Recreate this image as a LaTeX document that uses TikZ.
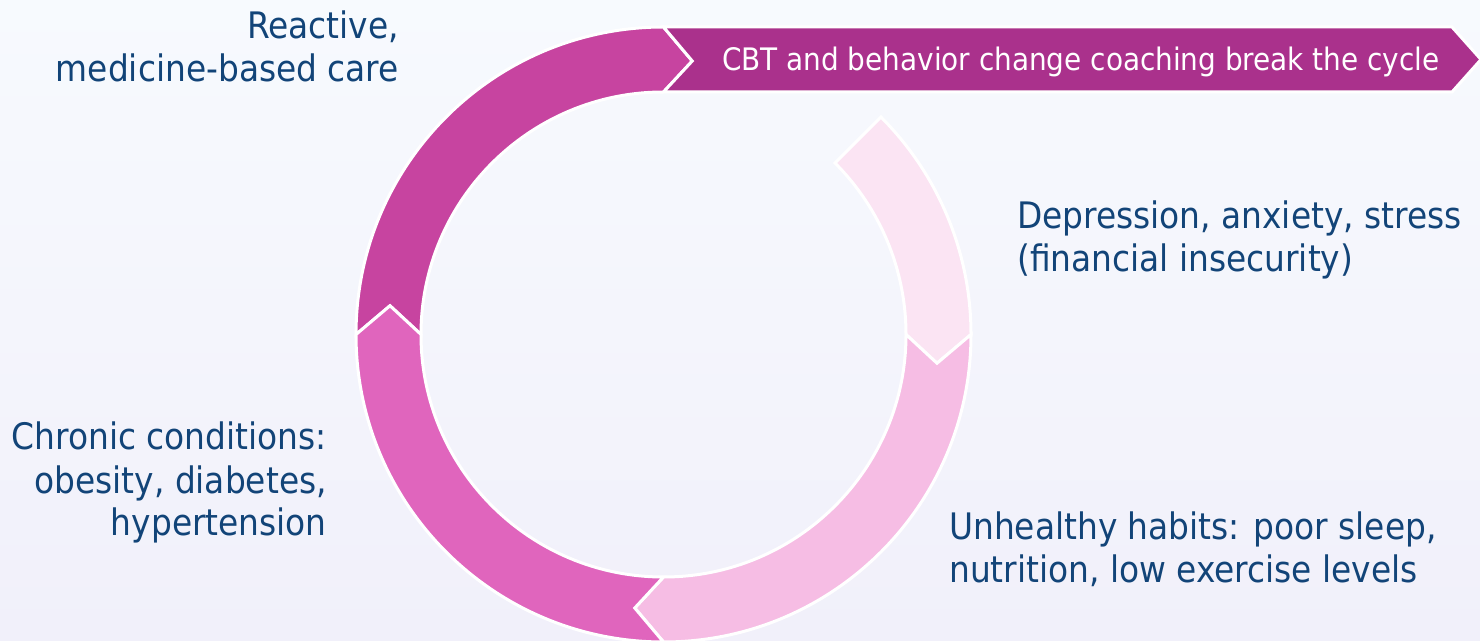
\documentclass[tikz,border=0pt]{standalone}
\usepackage{fontspec}
\setmainfont{DejaVu Sans Condensed}

\definecolor{bgtop}{RGB}{247,250,254}
\definecolor{bgbot}{RGB}{241,240,250}
\definecolor{txtblue}{RGB}{18,68,120}
\definecolor{barmag}{RGB}{170,49,140}
\definecolor{darkmag}{RGB}{199,68,160}
\definecolor{midpink}{RGB}{224,101,189}
\definecolor{pink}{RGB}{246,189,228}
\definecolor{lightpink}{RGB}{251,228,243}

\tikzset{
  seg/.style={fill=#1, draw=white, line width=3pt, line join=miter},
  lbl/.style={text=txtblue, inner sep=0pt, font=\fontsize{36.5}{43}\selectfont},
}

% ring piece from angle #1 to #2 (clockwise), notch at start, tip at end
\newcommand{\ringseg}[3]{%
  \draw[seg=#3] (#1:307.5pt) arc[start angle=#1, end angle=#2, radius=307.5pt]
    -- ({#2-6}:275pt) -- (#2:242.5pt)
    arc[start angle=#2, end angle=#1, radius=242.5pt]
    -- ({#1-6}:275pt) -- cycle;
}

\begin{document}
\begin{tikzpicture}[x=1pt,y=1pt]

% background
\useasboundingbox (0,0) rectangle (1480,640);
\shade[top color=bgtop, bottom color=bgbot] (0,0) rectangle (1480,640);

% draw cycle
\begin{scope}[shift={(663.5,305.5)}]
\ringseg{180}{90}{darkmag}
% arrow out of the cycle
\draw[seg=barmag] (90:307.5pt) -- (788.5pt,307.5pt) -- (817.5pt,275pt)
  -- (788.5pt,242.5pt) -- (90:242.5pt) -- (84:275pt) -- cycle;
% first piece has a flat end
\draw[seg=lightpink] (45:307.5pt) arc[start angle=45, end angle=0, radius=307.5pt]
  -- (-6:275pt) -- (0:242.5pt) arc[start angle=0, end angle=45, radius=242.5pt] -- cycle;
\ringseg{0}{-90}{pink}
\ringseg{-90}{-180}{midpink}
\end{scope}

% add labels (base = last line)
\node[lbl, text=white, font=\fontsize{31}{36}\selectfont, anchor=base west] (cbt)
  at (722,569) {CBT and behavior change coaching break the cycle};
\node[lbl, align=right, anchor=base east] (react) at (399,558)
  {Reactive,\\medicine-based care};
\node[lbl, align=left, anchor=base west] (depr) at (1017,368)
  {Depression, anxiety, stress\\(financial insecurity)};
\node[lbl, align=left, anchor=base west] (habits) at (949,58)
  {Unhealthy habits: poor sleep,\\nutrition, low exercise levels};
\node[lbl, align=right, anchor=base east] (chronic) at (327,104)
  {Chronic conditions:\\obesity, diabetes,\\hypertension};

\end{tikzpicture}
\end{document}
